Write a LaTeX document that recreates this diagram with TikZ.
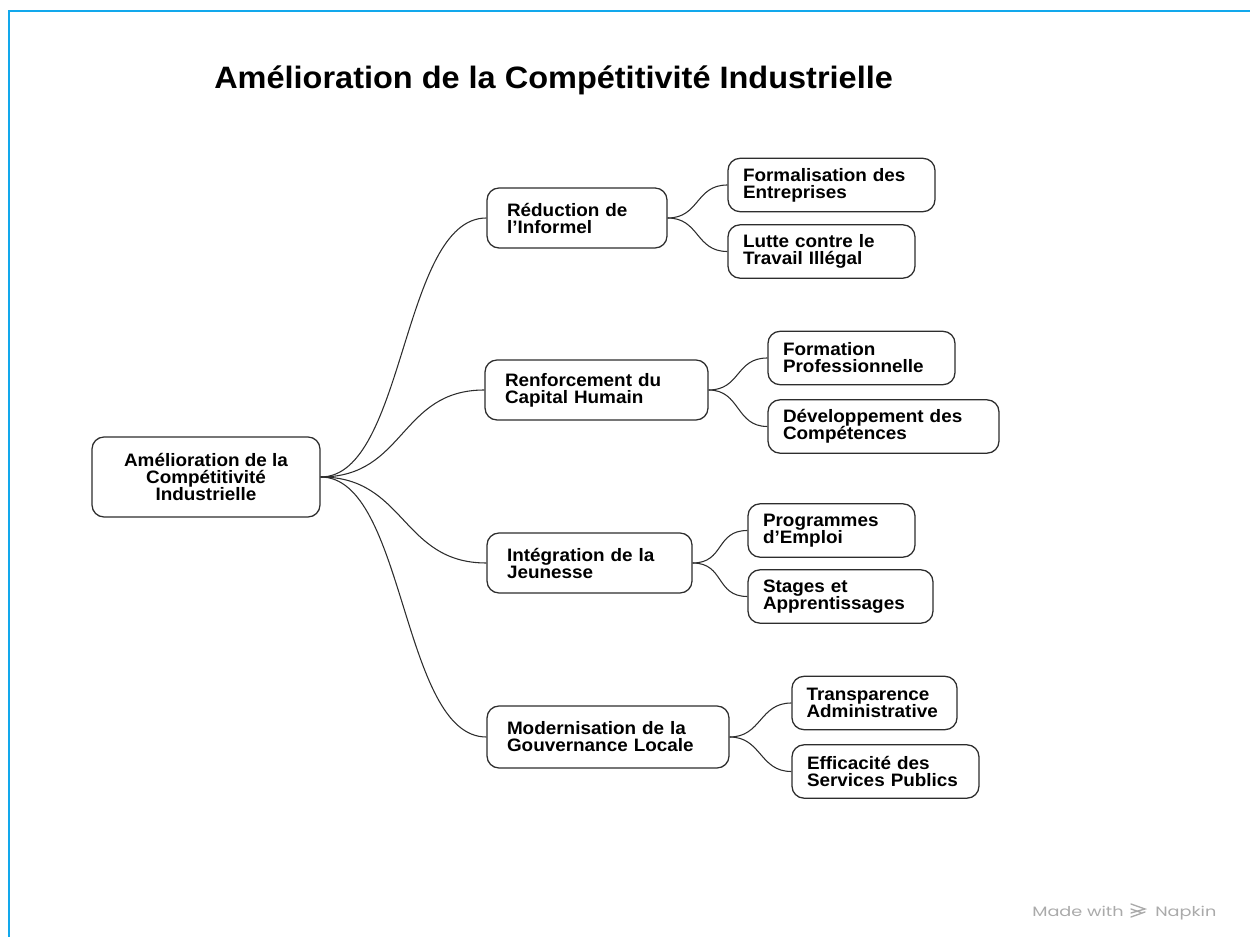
\documentclass[tikz,border=0pt]{standalone}
\usepackage{fontspec}
\setmainfont{Liberation Sans}[FakeStretch=1.05]
\newfontfamily\napkinfont{Poppins}[FakeStretch=1.3]
\definecolor{framecol}{RGB}{18,168,236}
\definecolor{linecol}{RGB}{45,45,45}
\definecolor{markcol}{RGB}{170,170,170}
\tikzset{
  txt/.style={font=\bfseries\fontsize{13.5}{12.75}\selectfont, text=black},
  box/.style={txt, draw=linecol, line width=0.95pt, rounded corners=9pt, fill=white, align=left},
  rootbox/.style={box, align=center, minimum width=171pt, minimum height=60pt, inner sep=0pt},
  parbox/.style={box, inner xsep=15pt, inner ysep=0pt, minimum height=45pt},
  kidbox/.style={box, inner xsep=11.25pt, inner ysep=0pt, minimum height=40pt},
  link/.style={draw=linecol, line width=0.8pt},
}
\begin{document}
\begin{tikzpicture}[x=0.75pt, y=-0.75pt]
\useasboundingbox (0,0) rectangle (1250,937);
% frame
\draw[framecol, line width=1.6pt] (9,937) -- (9,11) -- (1250,11);
% title
\node[anchor=base west, inner sep=0pt, font=\bfseries\fontsize{23.2}{26}\selectfont] (title) at (214,89) {Amélioration de la Compétitivité Industrielle};
% root
\node[rootbox] (root) at (206,477) {Amélioration de la\\Compétitivité\\Industrielle};
% parents
\node[parbox, text width=105pt] (p1) at (577,218) {Réduction de\\l’Informel};
\node[parbox, text width=137.25pt] (p2) at (596.5,390) {Renforcement du\\Capital Humain};
\node[parbox, text width=123.75pt] (p3) at (589.5,563) {Intégration de la\\Jeunesse};
\node[parbox, text width=151.5pt, minimum height=46.5pt] (p4) at (608,737) {Modernisation de la\\Gouvernance Locale};
% children
\node[kidbox, text width=132.75pt] (c1a) at (831.5,185) {Formalisation des\\Entreprises};
\node[kidbox, text width=117.75pt] (c1b) at (821.5,251.5) {Lutte contre le\\Travail Illégal};
\node[kidbox, text width=117.75pt] (c2a) at (861.5,358) {Formation\\Professionnelle};
\node[kidbox, text width=150.75pt] (c2b) at (883.5,426.5) {Développement des\\Compétences};
\node[kidbox, text width=102.75pt] (c3a) at (831.5,530.5) {Programmes\\d’Emploi};
\node[kidbox, text width=116.25pt] (c3b) at (840.5,596.5) {Stages et\\Apprentissages};
\node[kidbox, text width=102pt, inner xsep=10.9pt] (c4a) at (874.5,703) {Transparence\\Administrative};
\node[kidbox, text width=117.75pt] (c4b) at (885.5,771.5) {Efficacité des\\Services Publics};
% connectors root -> parents
\foreach \p in {p1,p2,p3,p4}{
  \draw[link] (root.east) .. controls +(85,0) and +(-85,0) .. (\p.west);
}
% connectors parents -> children
\foreach \p/\c in {p1/c1a,p1/c1b,p2/c2a,p2/c2b,p3/c3a,p3/c3b,p4/c4a,p4/c4b}{
  \draw[link] (\p.east) .. controls +(32,0) and +(-32,0) .. (\c.west);
}
% watermark
\node[anchor=base west, inner sep=0pt, text=markcol, font=\napkinfont\fontsize{10.2}{12}\selectfont] (made) at (1032,916) {Made with};
\node[anchor=base west, inner sep=0pt, text=markcol, font=\napkinfont\fontsize{10.2}{12}\selectfont] (napkin) at (1155,916) {Napkin};
\draw[markcol, line width=1pt, line cap=round] (1131,904) -- (1145,909) -- (1131,913);
\draw[markcol, line width=1pt, line cap=round] (1131,909) -- (1141,912.5);
\draw[markcol, line width=1pt, line cap=round] (1131,917) -- (1145,912);
\end{tikzpicture}
\end{document}
